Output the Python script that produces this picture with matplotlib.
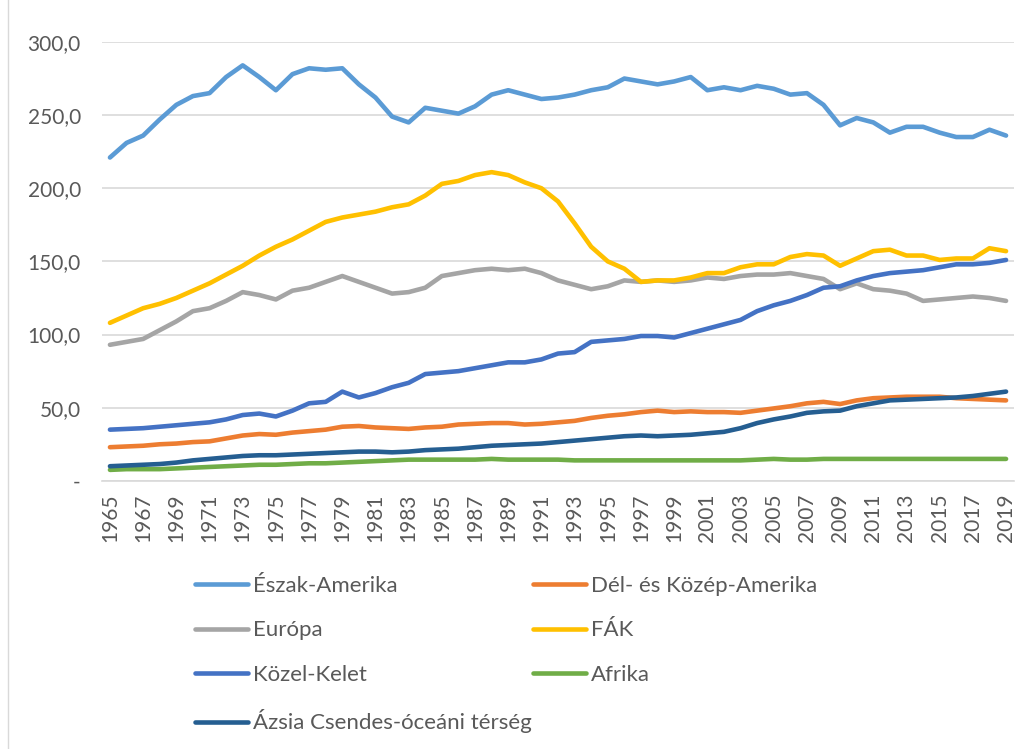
import matplotlib
matplotlib.use("Agg")
import matplotlib.pyplot as plt
from matplotlib.ticker import FuncFormatter, MultipleLocator
from matplotlib.lines import Line2D

years = list(range(1965, 2020))

eszak_amerika = [221, 231, 236, 247, 257, 263, 265, 276, 284, 276, 267, 278, 282, 281, 282,
                 271, 262, 249, 245, 255, 253, 251, 256, 264, 267, 264, 261, 262, 264, 267,
                 269, 275, 273, 271, 273, 276, 267, 269, 267, 270, 268, 264, 265, 257, 243,
                 248, 245, 238, 242, 242, 238, 235, 235, 240, 236]
del_kozep_amerika = [23, 23.5, 24, 25, 25.5, 26.5, 27, 29, 31, 32, 31.5, 33, 34, 35, 37,
                     37.5, 36.5, 36, 35.5, 36.5, 37, 38.5, 39, 39.5, 39.5, 38.5, 39, 40, 41, 43,
                     44.5, 45.5, 47, 48, 47, 47.5, 47, 47, 46.5, 48, 49.5, 51, 53, 54, 52.5,
                     55, 56.5, 57, 57.5, 57.5, 57.5, 56.5, 56, 55.5, 55]
europa = [93, 95, 97, 103, 109, 116, 118, 123, 129, 127, 124, 130, 132, 136, 140,
          136, 132, 128, 129, 132, 140, 142, 144, 145, 144, 145, 142, 137, 134, 131,
          133, 137, 136, 137, 136, 137, 139, 138, 140, 141, 141, 142, 140, 138, 131,
          135, 131, 130, 128, 123, 124, 125, 126, 125, 123]
fak = [108, 113, 118, 121, 125, 130, 135, 141, 147, 154, 160, 165, 171, 177, 180,
       182, 184, 187, 189, 195, 203, 205, 209, 211, 209, 204, 200, 191, 176, 160,
       150, 145, 136, 137, 137, 139, 142, 142, 146, 148, 148, 153, 155, 154, 147,
       152, 157, 158, 154, 154, 151, 152, 152, 159, 157]
kozel_kelet = [35, 35.5, 36, 37, 38, 39, 40, 42, 45, 46, 44, 48, 53, 54, 61,
               57, 60, 64, 67, 73, 74, 75, 77, 79, 81, 81, 83, 87, 88, 95,
               96, 97, 99, 99, 98, 101, 104, 107, 110, 116, 120, 123, 127, 132, 133,
               137, 140, 142, 143, 144, 146, 148, 148, 149, 151]
afrika = [7.5, 8, 8, 8, 8.5, 9, 9.5, 10, 10.5, 11, 11, 11.5, 12, 12, 12.5,
          13, 13.5, 14, 14.5, 14.5, 14.5, 14.5, 14.5, 15, 14.5, 14.5, 14.5, 14.5, 14, 14,
          14, 14, 14, 14, 14, 14, 14, 14, 14, 14.5, 15, 14.5, 14.5, 15, 15,
          15, 15, 15, 15, 15, 15, 15, 15, 15, 15]
azsia = [10, 10.5, 11, 11.5, 12.5, 14, 15, 16, 17, 17.5, 17.5, 18, 18.5, 19, 19.5,
         20, 20, 19.5, 20, 21, 21.5, 22, 23, 24, 24.5, 25, 25.5, 26.5, 27.5, 28.5,
         29.5, 30.5, 31, 30.5, 31, 31.5, 32.5, 33.5, 36, 39.5, 42, 44, 46.5, 47.5, 48,
         51, 53, 55, 55.5, 56, 56.5, 57, 58, 59.5, 61]

labels = ["Észak-Amerika", "Dél- és Közép-Amerika", "Európa", "FÁK",
          "Közel-Kelet", "Afrika", "Ázsia Csendes-óceáni térség"]
series = [eszak_amerika, del_kozep_amerika, europa, fak, kozel_kelet, afrika, azsia]
colors = ["#5B9BD5", "#ED7D31", "#A5A5A5", "#FFC000", "#4472C4", "#70AD47", "#255E91"]

plt.rcParams['font.family'] = ['Lato', 'DejaVu Sans']
txt = "#595959"

fig = plt.figure(figsize=(10.3, 7.49), dpi=100)
ax = fig.add_axes([0.0987, 0.358, 0.8861, 0.586])

handles = {}
for lab, vals, col in zip(labels, series, colors):
    h, = ax.plot(years, vals, color=col, lw=3.3, solid_capstyle='round',
                 solid_joinstyle='round', label=lab)
    handles[lab] = h

ax.set_xlim(1964.5, 2019.5)
ax.set_ylim(0, 300)
ax.yaxis.set_major_locator(MultipleLocator(50))
ax.yaxis.set_major_formatter(FuncFormatter(
    lambda v, p: "-" if abs(v) < 1e-9 else f"{v:.1f}".replace(".", ",")))
ax.set_xticks(years[::2])
ax.set_xticklabels([str(y) for y in years[::2]], rotation=90)

ax.grid(axis='y', color='#D9D9D9', lw=1.2)
ax.set_axisbelow(True)
for s in ['top', 'right', 'left']:
    ax.spines[s].set_visible(False)
ax.spines['bottom'].set_color('#D9D9D9')
ax.spines['bottom'].set_linewidth(1.2)
ax.tick_params(axis='y', length=0, pad=15, labelsize=15, labelcolor=txt)
ax.tick_params(axis='x', length=0, pad=9, labelsize=15, labelcolor=txt)

# chart-area border on the left edge
fig.add_artist(Line2D([8 / 1030, 8 / 1030], [0, 1], transform=fig.transFigure,
                      color='#D9D9D9', lw=1.0))

col1 = ["Észak-Amerika", "Európa", "Közel-Kelet", "Ázsia Csendes-óceáni térség"]
col2 = ["Dél- és Közép-Amerika", "FÁK", "Afrika"]
leg_kw = dict(loc='upper left', frameon=False, handlelength=2.4,
              prop={'size': 16}, handletextpad=0.22, labelspacing=1.1,
              borderpad=0, borderaxespad=0)
for names, x0 in [(col1, 195 / 1030), (col2, 533 / 1030)]:
    leg = fig.legend([handles[o] for o in names], names,
                     bbox_to_anchor=(x0, 1 - 576 / 749), **leg_kw)
    for t in leg.get_texts():
        t.set_color(txt)

fig.savefig("out.png", dpi=100)
